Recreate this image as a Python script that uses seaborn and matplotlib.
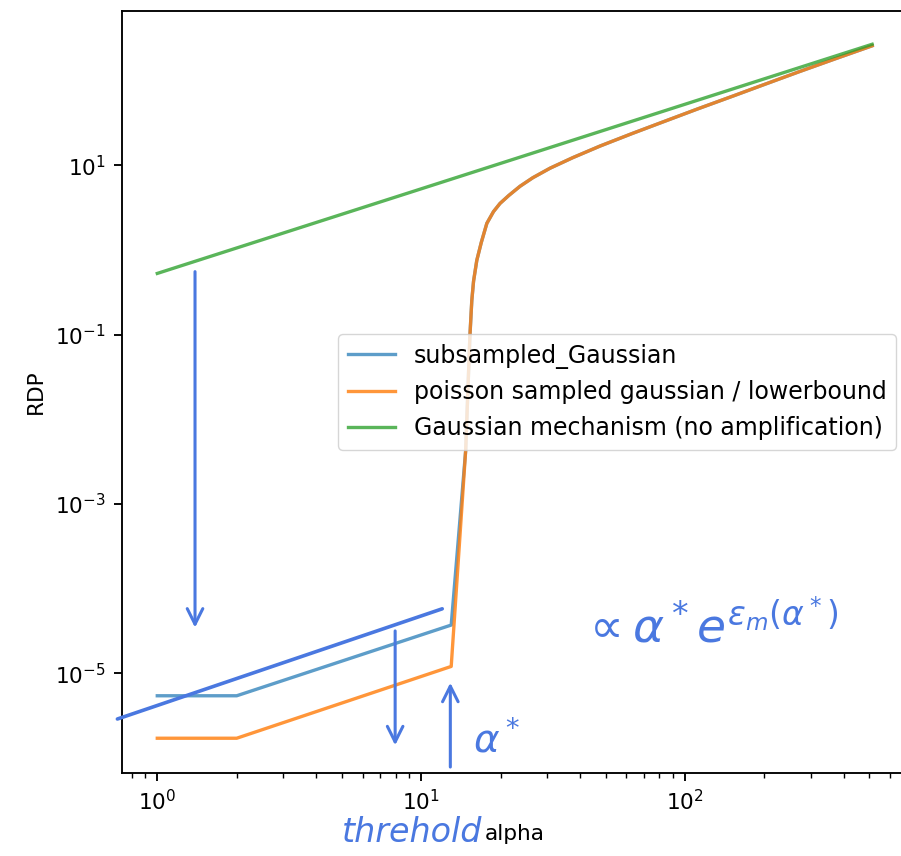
import matplotlib
matplotlib.use("Agg")
import matplotlib.pyplot as plt
import seaborn as sns
from matplotlib.ticker import NullLocator

# Values (RDP vs alpha, log-log)
alpha_sub = [1, 2, 13, 14.75, 15.3, 15.56, 15.8, 16.25, 16.9, 17.74, 18.8, 19.9, 21.5,
             23.7, 26.5, 30.8, 37.6, 47.7, 63.1, 85, 112, 152, 200, 271, 372, 512]
rdp_sub = [5.4e-6, 5.4e-6, 3.7e-5, 4.3e-3, 9.5e-2, 0.255, 0.43, 0.755, 1.23, 2.07, 2.85, 3.56, 4.43,
           5.68, 7.17, 9.29, 12.4, 17.0, 23.9, 33.9, 46.8, 66.2, 90.8, 128.5, 183, 260]

alpha_lb = [1, 2, 13, 14.75, 15.3, 15.56, 15.8, 16.25, 16.9, 17.74, 18.8, 19.9, 21.5,
            23.7, 26.5, 30.8, 37.6, 47.7, 63.1, 85, 112, 152, 200, 271, 372, 512]
rdp_lb = [1.7e-6, 1.7e-6, 1.2e-5, 4.3e-3, 9.5e-2, 0.255, 0.43, 0.755, 1.23, 2.07, 2.85, 3.56, 4.43,
          5.68, 7.17, 9.29, 12.4, 17.0, 23.9, 33.9, 46.8, 66.2, 90.8, 128.5, 183, 260]

alpha_gauss = [1, 512]
rdp_gauss = [0.53, 271]

labels = ["subsampled_Gaussian",
          "poisson sampled gaussian / lowerbound",
          "Gaussian mechanism (no amplification)"]

# scaled-up matplotlib defaults
s = 1.69
plt.rcParams.update({
    "xtick.labelsize": 15.6, "ytick.labelsize": 15.6,
    "axes.labelsize": 15.6, "legend.fontsize": 17,
    "axes.linewidth": 0.8 * s,
    "xtick.major.size": 3.5 * s, "ytick.major.size": 3.5 * s,
    "xtick.minor.size": 2 * s, "ytick.minor.size": 2 * s,
    "xtick.major.width": 0.8 * s, "ytick.major.width": 0.8 * s,
    "xtick.minor.width": 0.6 * s, "ytick.minor.width": 0.6 * s,
    "xtick.major.pad": 3.5 * s, "ytick.major.pad": 3.5 * s,
    "axes.labelpad": 4 * s,
})

fig = plt.figure(figsize=(9.01, 8.56), dpi=100)
ax = fig.add_axes([122 / 901, 83 / 856, 786 / 901, 762 / 856])
ax.set_xscale("log")
ax.set_yscale("log")

lw = 2.4
sns.lineplot(x=alpha_sub, y=rdp_sub, ax=ax, label=labels[0], color="tab:blue",
             alpha=0.72, lw=lw, estimator=None, sort=False)
sns.lineplot(x=alpha_lb, y=rdp_lb, ax=ax, label=labels[1], color="tab:orange",
             alpha=0.82, lw=lw, estimator=None, sort=False)
sns.lineplot(x=alpha_gauss, y=rdp_gauss, ax=ax, label=labels[2], color="tab:green",
             alpha=0.78, lw=lw, estimator=None, sort=False)

ax.set_xlim(0.735, 700)
ax.set_ylim(6.6e-7, 670)
ax.set_yticks([1e-5, 1e-3, 1e-1, 1e1])
ax.yaxis.set_minor_locator(NullLocator())
ax.set_xlabel("alpha")
ax.set_ylabel("RDP")
ax.legend(loc="center right")

# handwritten notes on top of the chart
pen = "#4a78e0"
arrow = dict(arrowstyle="->", color=pen, lw=2.2, mutation_scale=28)
ax.annotate("", xy=(1.39, 3.2e-5), xytext=(1.39, 0.6), arrowprops=arrow)
ax.annotate("", xy=(12.9, 8.3e-6), xytext=(12.9, 7.2e-7), arrowprops=arrow,
            annotation_clip=False)
ax.annotate("", xy=(7.97, 1.3e-6), xytext=(7.97, 3.4e-5), arrowprops=arrow)
ax.annotate("", xy=(12.3, 5.9e-5), xytext=(0.69, 2.8e-6),
            arrowprops=dict(arrowstyle="-", color=pen, lw=2.6),
            annotation_clip=False)
fig.text(412 / 901, 1 - 832 / 856, "threhold", color=pen, fontsize=24,
         style="italic", ha="center", va="center")
fig.text(497 / 901, 1 - 740 / 856, r"$\alpha^*$", color=pen, fontsize=28,
         ha="center", va="center")
fig.text(580 / 901, 1 - 628 / 856, r"$\propto \alpha^* e^{\epsilon_m(\alpha^*)}$",
         color=pen, fontsize=34, ha="left", va="center")

plt.savefig("out.png", dpi=100)
